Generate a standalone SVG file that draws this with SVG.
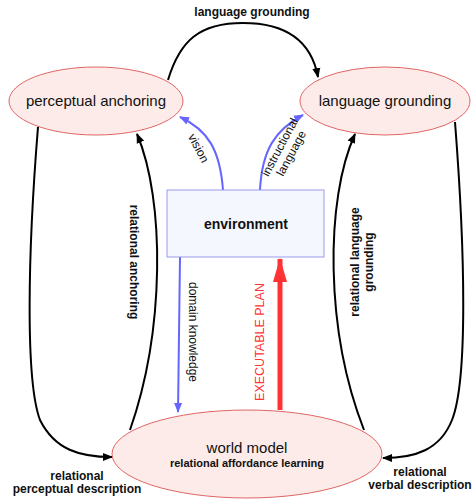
<svg xmlns="http://www.w3.org/2000/svg" width="474" height="502" viewBox="0 0 474 502">
<defs>
<marker id="ak" markerWidth="10" markerHeight="10" refX="9" refY="5" orient="auto" markerUnits="userSpaceOnUse"><path d="M0,1 L10,5 L0,9 Z" fill="#000"/></marker>
<marker id="ab" markerWidth="10" markerHeight="10" refX="9" refY="5" orient="auto" markerUnits="userSpaceOnUse"><path d="M0,1 L10,5 L0,9 Z" fill="#6666ff"/></marker>
<marker id="ar" markerWidth="24" markerHeight="16" refX="23" refY="8" orient="auto" markerUnits="userSpaceOnUse"><path d="M0,1 L24,8 L0,15 Z" fill="#ff3333"/></marker>
</defs>
<style>
text{font-family:"Liberation Sans",Arial,sans-serif;fill:#111}
.n{fill:#fcebe8;stroke:#e06666;stroke-width:1}
.k{fill:none;stroke:#000;stroke-width:2;marker-end:url(#ak)}
.b{fill:none;stroke:#6666ff;stroke-width:2;marker-end:url(#ab)}
.lb{font-size:12px;font-weight:bold}
.ln{font-size:12px}
</style>
<rect width="474" height="502" fill="#fff"/>
<g id="connectors">
<path class="k" d="M168,80 C180,40 200,23 243,23 C290,23 312,45 318,77"/>
<path class="b" d="M223,190 C220,150 208,130 180,117"/>
<path class="b" d="M260,190 C262,150 275,130 303,115"/>
<path class="k" d="M38,127 C28,250 25,380 40,420 C55,450 80,457 112,457"/>
<path class="k" d="M130,430 C165,330 165,200 137,134"/>
<path class="k" d="M364,430 C325,330 325,200 355,134"/>
<path class="k" d="M455,122 C465,250 468,380 452,420 C440,450 415,458 383,458"/>
<path class="b" d="M180,257 L178,412"/>
<path d="M280,410 L280,259" fill="none" stroke="#ff3333" stroke-width="5" marker-end="url(#ar)"/>
<text class="lb" x="252" y="16" text-anchor="middle">language grounding</text>
<text class="ln" transform="translate(195,150) rotate(62)" text-anchor="middle">vision</text>
<text class="ln" transform="translate(285,150) rotate(-62)" text-anchor="middle"><tspan x="0" y="-2">instructional</tspan><tspan x="0" y="11">language</tspan></text>
<text class="lb" transform="translate(130,262) rotate(90)" text-anchor="middle">relational anchoring</text>
<text class="lb" transform="translate(359,262) rotate(-90)" text-anchor="middle"><tspan x="0" y="0">relational language</tspan><tspan x="0" y="14">grounding</tspan></text>
<text class="ln" transform="translate(189,332) rotate(90)" text-anchor="middle">domain knowledge</text>
<text transform="translate(264,342) rotate(-90)" text-anchor="middle" style="font-size:12.5px;fill:#ff3333">EXECUTABLE PLAN</text>
<text class="lb" text-anchor="middle"><tspan x="77" y="480">relational</tspan><tspan x="77" y="493">perceptual description</tspan></text>
<text class="lb" text-anchor="middle"><tspan x="420" y="476">relational</tspan><tspan x="420" y="489">verbal description</tspan></text>
</g>
<g id="perceptual-anchoring">
<ellipse class="n" cx="96" cy="101" rx="87" ry="34"/>
<text x="96" y="106" text-anchor="middle" style="font-size:15px">perceptual anchoring</text>
</g>
<g id="language-grounding">
<ellipse class="n" cx="385" cy="101" rx="85" ry="34"/>
<text x="385" y="106" text-anchor="middle" style="font-size:15px">language grounding</text>
</g>
<g id="environment">
<rect x="167" y="190" width="157" height="67" fill="#f5f7fe" stroke="#9999ee" stroke-width="1"/>
<text x="246" y="229" text-anchor="middle" style="font-size:14px;font-weight:bold">environment</text>
</g>
<g id="world-model">
<ellipse class="n" cx="247" cy="454" rx="135" ry="44"/>
<text x="247" y="453" text-anchor="middle" style="font-size:15px">world model</text>
<text x="247" y="467" text-anchor="middle" style="font-size:11px;font-weight:bold">relational affordance learning</text>
</g>
</svg>
